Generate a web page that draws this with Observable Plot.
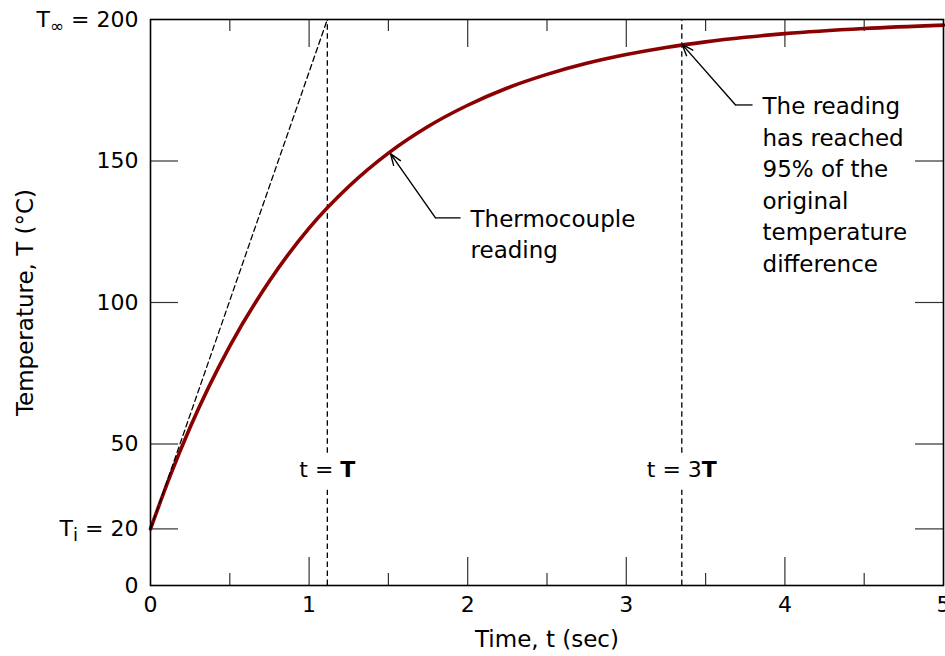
<!DOCTYPE html>
<html>
<head>
<meta charset="utf-8">
<script src="https://cdn.jsdelivr.net/npm/d3@7"></script>
<script src="https://cdn.jsdelivr.net/npm/@observablehq/plot@0.6"></script>
<style>
  body { margin: 0; background: #fff; }
</style>
</head>
<body>
<div id="chart"></div>
<script>
// ---- data ----
const timeValues = [0, 0.125, 0.25, 0.5, 0.75, 1.0, 1.25, 1.5, 1.75, 2.0, 2.25, 2.5, 2.75, 3.0, 3.25, 3.5, 3.75, 4.0, 4.5, 5.0];
const tempValues = [20, 38.9, 55.9, 84.6, 107.6, 126.3, 141.0, 152.8, 162.2, 169.7, 175.8, 180.6, 184.5, 187.6, 190.1, 192.1, 193.7, 195.0, 196.8, 198.0];
const xTickValues = [0, 1, 2, 3, 4, 5];
const xMajorInner = [1, 2, 3, 4];
const xMinorTicks = [0.5, 1.5, 2.5, 3.5, 4.5];
const yTickValues = [0, 20, 50, 100, 150, 200];
const yTickLabels = ["0", "Ti = 20", "50", "100", "150", "T∞ = 200"];
const yInnerTicks = [20, 50, 100, 150];
const markerTimes = [1.115, 3.35];
const markerLabels = ["t = T", "t = 3T"];
const tangentTimes = [0, 1.115];
const tangentTemps = [20, 200];
const annotationTexts = [
  "Thermocouple\nreading",
  "The reading\nhas reached\n95% of the\noriginal\ntemperature\ndifference"
];
const xAxisTitle = "Time, t (sec)";
const yAxisTitle = "Temperature, T (°C)";

// ---- layout ----
const W = 945, H = 656, mL = 150, mR = 2, mT = 19, mB = 71;
const pxX = (W - mL - mR) / 5;
const pxY = (H - mT - mB) / 200;
const majorY = 28 / pxY, minorY = 12 / pxY, majorX = 28 / pxX;

const curve = timeValues.map((t, i) => ({t, T: tempValues[i]}));
const tangent = tangentTimes.map((t, i) => ({t, T: tangentTemps[i]}));

const ann1 = {tipX: 1.513, tipY: 152.6, tailX: 1.797, tailY: 129.9, endX: 1.955, textX: 2.018, textY: 124.8};
const ann2 = {tipX: 3.352, tipY: 191.2, tailX: 3.689, tailY: 169.8, endX: 3.796, textX: 3.859, textY: 142.3};

const tickStroke = "#333";
const dash = "5.5,3.5";

const chart = Plot.plot({
  width: W, height: H,
  marginLeft: mL, marginRight: mR, marginTop: mT, marginBottom: mB,
  x: {domain: [0, 5]},
  y: {domain: [0, 200]},
  style: {fontFamily: "'DejaVu Sans', sans-serif", fontSize: "22px", color: "black", background: "white"},
  marks: [
    // inner ticks
    Plot.ruleX(xMajorInner, {x: d => d, y1: 0, y2: majorY, stroke: tickStroke, strokeWidth: 1.2}),
    Plot.ruleX(xMajorInner, {x: d => d, y1: 200 - majorY, y2: 200, stroke: tickStroke, strokeWidth: 1.2}),
    Plot.ruleX(xMinorTicks, {x: d => d, y1: 0, y2: minorY, stroke: tickStroke, strokeWidth: 1.2}),
    Plot.ruleX(xMinorTicks, {x: d => d, y1: 200 - minorY, y2: 200, stroke: tickStroke, strokeWidth: 1.2}),
    Plot.ruleY(yInnerTicks, {y: d => d, x1: 0, x2: majorX, stroke: tickStroke, strokeWidth: 1.2}),
    Plot.ruleY(yInnerTicks, {y: d => d, x1: 5 - majorX, x2: 5, stroke: tickStroke, strokeWidth: 1.2}),
    // vertical dashed lines with gap for labels
    Plot.ruleX(markerTimes, {x: d => d, y1: 0, y2: 33.7, stroke: "black", strokeWidth: 1.3, strokeDasharray: dash}),
    Plot.ruleX(markerTimes, {x: d => d, y1: 46.7, y2: 200, stroke: "black", strokeWidth: 1.3, strokeDasharray: dash}),
    Plot.text(markerTimes, {x: d => d, y: 40.8, text: (d, i) => markerLabels[i], fill: "black"}),
    // curve
    Plot.line(curve, {x: "t", y: "T", stroke: "#8b0000", strokeWidth: 3.6, curve: "monotone-x"}),
    // tangent
    Plot.line(tangent, {x: "t", y: "T", stroke: "black", strokeWidth: 1.3, strokeDasharray: dash}),
    // annotations
    Plot.arrow([ann1, ann2], {x1: "tailX", y1: "tailY", x2: "tipX", y2: "tipY", stroke: "black", strokeWidth: 1.4, headLength: 13, headAngle: 40}),
    Plot.link([ann1, ann2], {x1: "tailX", y1: "tailY", x2: "endX", y2: "tailY", stroke: "black", strokeWidth: 1.3}),
    Plot.text([ann1, ann2], {x: "textX", y: "textY", text: (d, i) => annotationTexts[i], textAnchor: "start", lineAnchor: "middle", lineHeight: 1.37, fontSize: 23, fill: "black"}),
    // axes
    Plot.axisX(xTickValues, {tickSize: 0, tickPadding: 11, label: null, tickFormat: d => String(d)}),
    Plot.axisY(yTickValues, {tickSize: 0, tickPadding: 12, label: null, tickFormat: d => yTickLabels[yTickValues.indexOf(d)]}),
    Plot.text([xAxisTitle], {frameAnchor: "bottom", dy: 54, lineAnchor: "middle", textAnchor: "middle", text: d => d, fontSize: 23, fill: "black"}),
    Plot.text([yAxisTitle], {frameAnchor: "left", dx: -125, rotate: -90, lineAnchor: "middle", textAnchor: "middle", text: d => d, fontSize: 23, fill: "black"}),
    Plot.frame({stroke: "black", strokeWidth: 1.6})
  ]
});

// rich text replacements (subscripts / bold)
const rich = {
  "T∞ = 200": 'T<tspan font-size="17" dy="5">∞</tspan><tspan dy="-5"> = 200</tspan>',
  "Ti = 20": 'T<tspan font-size="18" dy="5">i</tspan><tspan dy="-5"> = 20</tspan>',
  "t = T": 't = <tspan font-weight="bold">T</tspan>',
  "t = 3T": 't = 3<tspan font-weight="bold">T</tspan>'
};
chart.querySelectorAll("text").forEach(el => {
  if (el.children.length === 0 && rich[el.textContent] !== undefined) {
    el.innerHTML = rich[el.textContent];
  }
});

document.getElementById("chart").appendChild(chart);
</script>
</body>
</html>
